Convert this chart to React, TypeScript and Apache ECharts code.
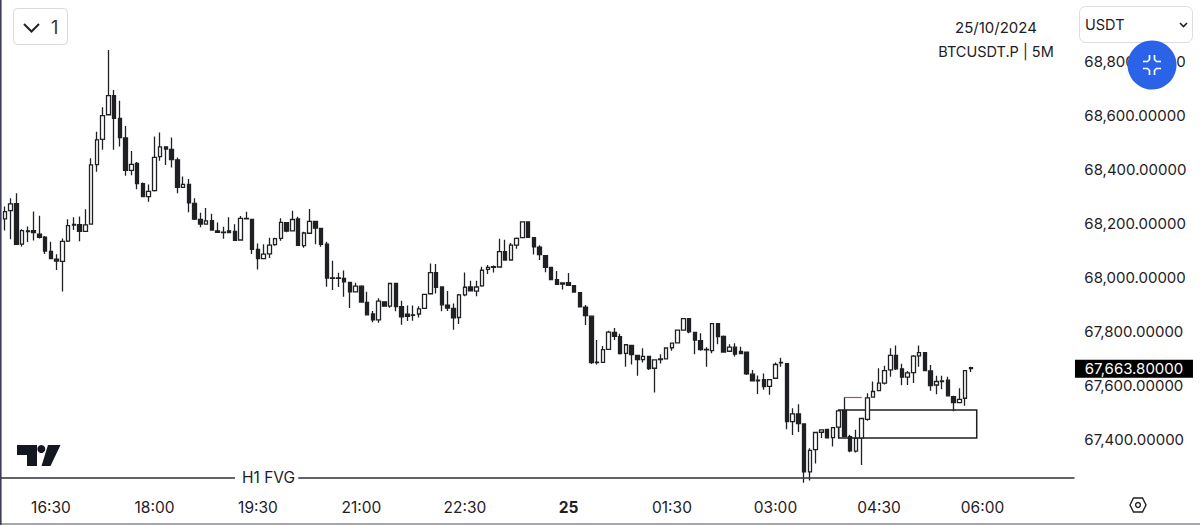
import React, { useEffect, useRef } from "react";
import * as echarts from "echarts";

// [open, close, low, high], one candle every 5 minutes from 15:45
const candles: number[][] = [
  [68215,68207,68196,68226],[68215,68242,68172,68261],[68246,68271,68140,68292],[68272,68121,68119,68310],[68122,68172,68113,68177],
  [68171,68168,68130,68187],[68172,68164,68135,68243],[68159,68147,68143,68227],[68148,68096,68085,68152],[68095,68068,68066,68131],
  [68066,68059,68026,68084],[68058,68132,67946,68143],[68133,68190,68130,68214],[68192,68195,68174,68221],[68194,68169,68132,68224],
  [68169,68193,68168,68251],[68196,68415,68195,68440],[68416,68508,68390,68538],[68510,68598,68471,68629],[68601,68672,68599,68841],
  [68672,68588,68471,68693],[68587,68516,68483,68653],[68515,68395,68375,68559],[68395,68417,68377,68467],[68421,68346,68325,68426],
  [68346,68298,68295,68350],[68298,68317,68279,68343],[68320,68443,68317,68520],[68446,68482,68431,68535],[68482,68474,68415,68483],
  [68473,68435,68406,68517],[68434,68332,68310,68443],[68332,68343,68331,68372],[68343,68275,68240,68363],[68273,68214,68211,68292],
  [68213,68196,68184,68238],[68196,68208,68195,68256],[68209,68174,68172,68234],[68171,68165,68164,68202],[68166,68164,68142,68186],
  [68171,68164,68162,68221],[68169,68136,68133,68195],[68137,68217,68134,68226],[68217,68215,68213,68242],[68213,68102,68085,68215],
  [68102,68068,68028,68124],[68068,68085,68066,68121],[68086,68118,68070,68145],[68120,68142,68116,68145],[68143,68202,68134,68218],
  [68201,68170,68166,68203],[68171,68213,68169,68245],[68215,68117,68116,68223],[68116,68163,68108,68168],[68162,68206,68159,68252],
  [68206,68181,68121,68207],[68180,68121,68112,68181],[68122,67996,67964,68131],[67997,67995,67952,68060],[67997,67995,67963,68016],
  [67995,67982,67927,68024],[67980,67945,67885,67981],[67945,67966,67943,67979],[67966,67907,67905,67969],[67906,67860,67857,67945],
  [67863,67841,67832,67874],[67841,67911,67831,67921],[67908,67892,67891,67910],[67892,67976,67886,67977],[67976,67890,67873,67977],
  [67890,67852,67823,67912],[67862,67854,67837,67894],[67860,67858,67838,67894],[67863,67882,67850,67892],[67884,67936,67882,67937],
  [67938,68016,67937,68050],[68016,67962,67939,68048],[67963,67897,67873,67964],[67896,67885,67874,67948],[67884,67849,67805,67902],
  [67850,67934,67826,67937],[67934,67962,67929,68017],[67963,67949,67947,67986],[67948,67963,67929,67986],[67967,68025,67964,68038],
  [68028,68036,68011,68044],[68036,68038,68017,68043],[68037,68094,68036,68142],[68094,68063,68062,68138],[68063,68118,68062,68126],
  [68118,68143,68105,68146],[68146,68204,68144,68205],[68204,68147,68146,68205],[68146,68112,68083,68147],[68111,68083,68063,68118],
  [68079,68036,68018,68081],[68036,67990,67988,68037],[67990,67973,67971,68022],[67978,67974,67954,67979],[67979,67969,67967,68015],
  [67968,67944,67943,67970],[67942,67889,67888,67943],[67888,67857,67822,67896],[67855,67683,67678,67857],[67685,67683,67676,67767],
  [67684,67731,67683,67744],[67732,67796,67731,67801],[67795,67780,67767,67811],[67779,67716,67713,67790],[67717,67749,67668,67752],
  [67747,67713,67676,67748],[67710,67694,67634,67711],[67694,67706,67683,67736],[67706,67661,67656,67708],[67662,67693,67572,67694],
  [67694,67697,67680,67714],[67697,67737,67695,67738],[67738,67755,67727,67757],[67756,67803,67755,67805],[67803,67846,67801,67847],
  [67846,67797,67792,67847],[67795,67766,67714,67797],[67764,67731,67727,67792],[67732,67730,67668,67740],[67727,67827,67718,67830],
  [67827,67779,67751,67829],[67780,67722,67719,67783],[67725,67740,67722,67751],[67740,67714,67706,67755],[67724,67716,67714,67742],
  [67722,67641,67637,67724],[67640,67615,67613,67656],[67618,67615,67567,67635],[67620,67594,67582,67643],[67595,67620,67564,67622],
  [67625,67676,67622,67683],[67682,67684,67668,67701],[67679,67464,67436,67680],[67464,67493,67415,67514],[67493,67457,67426,67529],
  [67456,67278,67238,67457],[67278,67358,67246,67366],[67361,67424,67309,67427],[67425,67434,67404,67436],[67436,67404,67403,67437],
  [67405,67442,67372,67443],[67444,67504,67403,67508],[67505,67409,67408,67555],[67409,67356,67351,67416],[67355,67402,67350,67434],
  [67404,67476,67304,67478],[67473,67552,67468,67569],[67555,67576,67553,67613],[67579,67607,67578,67662],[67607,67653,67602,67671],
  [67656,67710,67631,67736],[67710,67660,67656,67746],[67660,67629,67599,67679],[67629,67645,67600,67652],[67646,67707,67607,67711],
  [67708,67720,67668,67746],[67720,67653,67652,67721],[67652,67598,67579,67674],[67600,67613,67566,67634],[67613,67615,67584,67634],
  [67618,67560,67557,67631],[67557,67535,67503,67560],[67535,67547,67534,67588],[67551,67653,67523,67656],[67661,67663.8,67648,67668],
];

const tickLabels = ["16:30", "18:00", "19:30", "21:00", "22:30", "25", "01:30", "03:00", "04:30", "06:00"];
const lastPrice = 67663.8;
const fvgLevel = 67256;
const boxTop = 67507;
const boxBottom = 67404;
const stubLevel = 67555;
const slotCount = 188;

const categories: string[] = [];
for (let i = 0; i < slotCount; i++) {
  const m = (15 * 60 + 45 + i * 5) % 1440;
  const hh = String(Math.floor(m / 60)).padStart(2, "0");
  const mm = String(m % 60).padStart(2, "0");
  categories.push(m === 0 ? "25" : `${hh}:${mm}`);
}

const FONT = "Inter, 'Noto Sans', sans-serif";
const INK = "#1f2024";

const fmtPrice = (v: number, digits = 5) =>
  v.toLocaleString("en-US", { minimumFractionDigits: digits, maximumFractionDigits: digits });

export default function App() {
  const ref = useRef<HTMLDivElement>(null);
  useEffect(() => {
    document.body.style.margin = "0";
    document.body.style.background = "#fff";
    const chart = echarts.init(ref.current!, undefined, { renderer: "svg" });
    const option: any = {
      animation: false,
      backgroundColor: "#fff",
      grid: { left: -3.65, top: 7, width: 5.75 * slotCount, height: 486, outerBoundsMode: "none" },
      xAxis: {
        type: "category",
        data: categories,
        boundaryGap: true,
        axisLine: { show: false },
        axisTick: { show: false },
        splitLine: { show: false },
        axisLabel: {
          interval: (_: number, name: string) => tickLabels.includes(name),
          formatter: (v: string) => (v === "25" ? `{b|${v}}` : v),
          color: INK,
          fontFamily: FONT,
          fontSize: 15.5,
          margin: 6,
          hideOverlap: false,
          rich: { b: { fontWeight: 700, fontFamily: FONT, fontSize: 15.5, color: INK } },
        },
      },
      yAxis: {
        type: "value",
        position: "right",
        min: 67200,
        max: 69000,
        interval: 200,
        scale: true,
        axisLine: { show: false },
        axisTick: { show: false },
        splitLine: { show: false },
        axisLabel: {
          margin: 7,
          showMinLabel: false,
          showMaxLabel: false,
          color: INK,
          fontFamily: FONT,
          fontSize: 15,
          lineHeight: 14,
          formatter: (v: number) => fmtPrice(v),
        },
      },
      series: [
        {
          type: "candlestick",
          data: candles,
          barWidth: 4,
          clip: false,
          itemStyle: {
            color: "#ffffff",
            color0: INK,
            borderColor: INK,
            borderColor0: INK,
            borderColorDoji: INK,
            borderWidth: 1.3,
          },
          markLine: {
            silent: true,
            symbol: "none",
            animation: false,
            label: { show: false },
            emphasis: { disabled: true },
            data: [
              [
                {
                  coord: [0, fvgLevel],
                  lineStyle: { color: "#2f2f36", width: 1.6, type: "solid" },
                },
                {
                  coord: [41, fvgLevel],
                  label: {
                    show: true,
                    position: "end",
                    formatter: "H1 FVG",
                    color: INK,
                    fontFamily: FONT,
                    fontSize: 15.5,
                    distance: 7,
                  },
                },
              ],
              [
                { coord: [52, fvgLevel], lineStyle: { color: "#2f2f36", width: 1.6, type: "solid" } },
                { coord: [187, fvgLevel] },
              ],
              [
                { coord: [147, stubLevel], lineStyle: { color: "#a3565c", width: 1.2, type: "solid" } },
                { coord: [150, stubLevel] },
              ],
            ],
          },
          markArea: {
            silent: true,
            itemStyle: { color: "rgba(0,0,0,0)", borderColor: INK, borderWidth: 1.5 },
            data: [[{ coord: [146, boxTop] }, { coord: [170, boxBottom] }]],
          },
          markPoint: {
            silent: true,
            animation: false,
            data: [
              {
                coord: [187, lastPrice],
                symbol: "rect",
                symbolSize: [118, 18],
                symbolOffset: [59.5, 1],
                itemStyle: { color: "#000" },
                label: {
                  show: true,
                  position: "inside",
                  formatter: fmtPrice(lastPrice),
                  color: "#fff",
                  fontFamily: FONT,
                  fontSize: 15,
                  lineHeight: 14,
                },
              },
            ],
          },
        },
      ],
      graphic: [
        // page edges
        { type: "line", shape: { x1: 0.8, y1: 0, x2: 0.8, y2: 525 }, style: { stroke: "#3d3d5c", lineWidth: 1.6 }, z: 50 },
        { type: "line", shape: { x1: 0, y1: 524, x2: 1200, y2: 524 }, style: { stroke: "#4a4a60", lineWidth: 1 }, z: 50 },
        // collapse button
        { type: "rect", shape: { x: 13.5, y: 8.5, width: 54, height: 36, r: 4 }, style: { fill: "#fff", stroke: "#d9dadf", lineWidth: 1 }, z: 60 },
        { type: "polyline", shape: { points: [[24, 24], [31.5, 31.5], [39, 24]] }, style: { fill: "none", stroke: "#222", lineWidth: 2 }, z: 61 },
        { type: "text", x: 51, y: 18, style: { text: "1", fill: "#333", font: `18px ${FONT}` }, z: 61 },
        // date and symbol
        { type: "text", x: 996, y: 27, style: { text: "25/10/2024", fill: INK, font: `15px ${FONT}`, align: "center", verticalAlign: "middle" }, z: 60 },
        { type: "text", x: 996, y: 51, style: { text: "BTCUSDT.P | 5M", fill: INK, font: `14.5px ${FONT}`, align: "center", verticalAlign: "middle" }, z: 60 },
        // currency select
        { type: "rect", shape: { x: 1079.5, y: 6.5, width: 113, height: 36, r: 6 }, style: { fill: "#fff", stroke: "#dcdde2", lineWidth: 1 }, z: 60 },
        { type: "text", x: 1085, y: 24, style: { text: "USDT", fill: INK, font: `14.5px ${FONT}`, verticalAlign: "middle" }, z: 61 },
        { type: "polyline", shape: { points: [[1180, 23], [1183.5, 26.5], [1187, 23]] }, style: { fill: "none", stroke: "#222", lineWidth: 1.6 }, z: 61 },
        // blue fullscreen button
        { type: "circle", shape: { cx: 1152, cy: 65, r: 24.5 }, style: { fill: "#2a63e8" }, z: 70 },
        { type: "polyline", shape: { points: [[1143, 61.5], [1147.5, 61.5], [1149.5, 59.5], [1149.5, 55]] }, style: { fill: "none", stroke: "#fff", lineWidth: 1.7 }, z: 71 },
        { type: "polyline", shape: { points: [[1154.5, 55], [1154.5, 59.5], [1156.5, 61.5], [1161, 61.5]] }, style: { fill: "none", stroke: "#fff", lineWidth: 1.7 }, z: 71 },
        { type: "polyline", shape: { points: [[1143, 68.5], [1147.5, 68.5], [1149.5, 70.5], [1149.5, 75]] }, style: { fill: "none", stroke: "#fff", lineWidth: 1.7 }, z: 71 },
        { type: "polyline", shape: { points: [[1154.5, 75], [1154.5, 70.5], [1156.5, 68.5], [1161, 68.5]] }, style: { fill: "none", stroke: "#fff", lineWidth: 1.7 }, z: 71 },
        // TradingView mark
        { type: "polygon", shape: { points: [[17, 445], [37, 445], [37, 466], [27, 466], [27, 455], [17, 455]] }, style: { fill: "#131722" }, z: 60 },
        { type: "circle", shape: { cx: 41.3, cy: 449, r: 4 }, style: { fill: "#131722" }, z: 60 },
        { type: "polygon", shape: { points: [[48, 445], [60.5, 445], [50.5, 466], [41.5, 466]] }, style: { fill: "#131722" }, z: 60 },
        // settings hexagon
        { type: "polygon", shape: { points: [[1130, 505], [1133.5, 498], [1142.5, 498], [1146, 505], [1142.5, 512], [1133.5, 512]] }, style: { fill: "none", stroke: "#222", lineWidth: 1.4 }, z: 60 },
        { type: "circle", shape: { cx: 1138, cy: 505, r: 2.4 }, style: { fill: "none", stroke: "#222", lineWidth: 1.4 }, z: 60 },
      ],
    };
    chart.setOption(option);
    return () => chart.dispose();
  }, []);
  return <div ref={ref} style={{ width: 1200, height: 525 }} />;
}
